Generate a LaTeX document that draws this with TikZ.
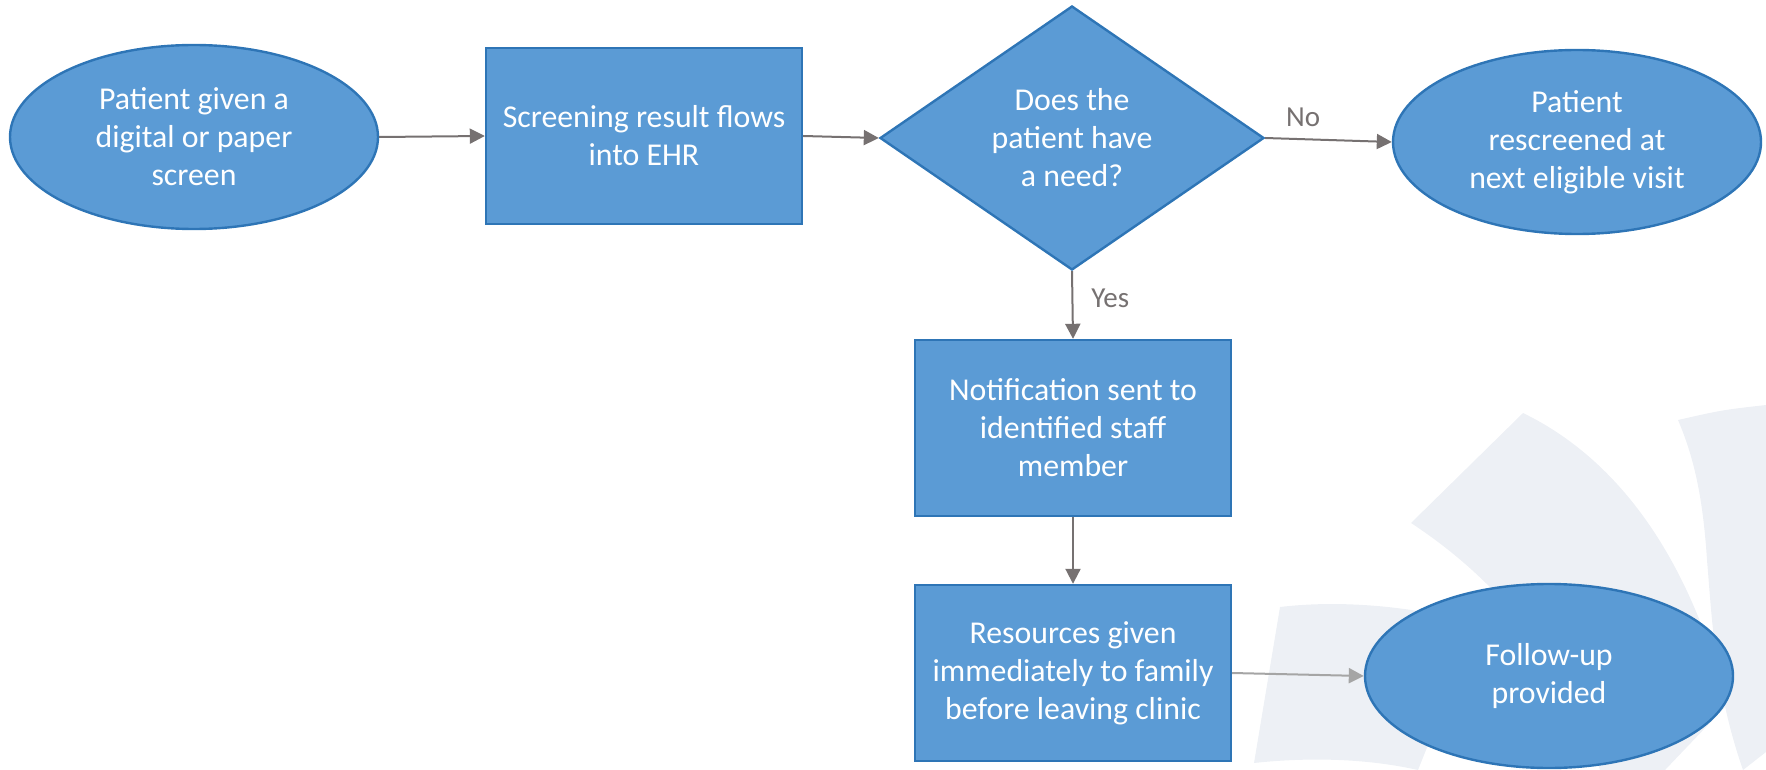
\documentclass[tikz,border=0pt]{standalone}
\usepackage{fontspec}
\setmainfont{Carlito}
\usepackage{tikz}
\usetikzlibrary{shapes.geometric,arrows.meta}
\definecolor{boxfill}{RGB}{91,155,213}
\definecolor{boxline}{RGB}{46,117,182}
\definecolor{arrowgray}{RGB}{118,113,113}
\definecolor{lightarrow}{RGB}{165,165,165}
\definecolor{watermark}{RGB}{237,240,245}

\begin{document}
\begin{tikzpicture}[x=0.5pt,y=-0.5pt]
\tikzstyle{every node}+=[inner sep=0pt, font=\fontsize{15.9}{19}\selectfont]
\tikzstyle{oval}=[ellipse, draw=boxline, fill=boxfill, line width=1.2pt, text=white, align=center, minimum width=184pt, minimum height=92pt]
\tikzstyle{proc}=[rectangle, draw=boxline, fill=boxfill, line width=1.2pt, text=white, align=center, minimum width=158pt, minimum height=88pt]
\tikzstyle{decide}=[diamond, aspect=1.45, draw=boxline, fill=boxfill, line width=1.2pt, text=white, align=center, minimum width=192pt, minimum height=132pt]
\tikzstyle{flow}=[draw=arrowgray, line width=1pt, -{Triangle[length=7.5pt,width=7.5pt]}]
\tikzstyle{answer}=[text=arrowgray, inner sep=3pt, font=\fontsize{14.5}{17}\selectfont]
\useasboundingbox (0,0) rectangle (1766,770);
% faint logo in the corner
\fill [watermark] (1411,523) -- (1523,413) .. controls (1620,460) and (1690,560) .. (1727,705) -- (1665,770) -- (1600,770) .. controls (1560,650) and (1490,575) .. (1411,523);
\fill [watermark] (1678,420) .. controls (1722,410) .. (1766,405) -- (1766,752) -- (1743,770) .. controls (1715,690) and (1712,620) .. (1707,560) .. controls (1703,500) and (1695,460) .. (1678,420);
\fill [watermark] (1280,607) .. controls (1330,601) and (1390,604) .. (1450,617) -- (1430,740) -- (1418,770) .. controls (1360,757) and (1300,758) .. (1254,763) -- cycle;
% steps
\node[oval] (patient) at (194,137) {Patient given a\\digital or paper\\screen};
\node[proc] (screen) at (644,136) {Screening result flows\\into EHR};
\node[decide] (need) at (1072,138) {Does the\\patient have\\a need?};
\node[oval] (rescreen) at (1577,142) {Patient\\rescreened at\\next eligible visit};
\node[proc] (notify) at (1073,428) {Notification sent to\\identified staff\\member};
\node[proc] (resources) at (1073,673) {Resources given\\immediately to family\\before leaving clinic};
\node[oval] (followup) at (1549,676) {Follow-up\\provided};
% connectors
\draw[flow] (patient.east) -- (screen.west);
\draw[flow] (screen.east) -- (need.west);
\draw[flow] (need.east) -- node[answer, above=2.5pt, pos=0.3] {No} (rescreen.west);
\draw[flow] (need.south) -- node[answer, right=6pt, pos=0.4] {Yes} (notify.north);
\draw[flow] (notify.south) -- (resources.north);
\draw[flow, draw=lightarrow] (resources.east) -- (followup.west);
\end{tikzpicture}
\end{document}
